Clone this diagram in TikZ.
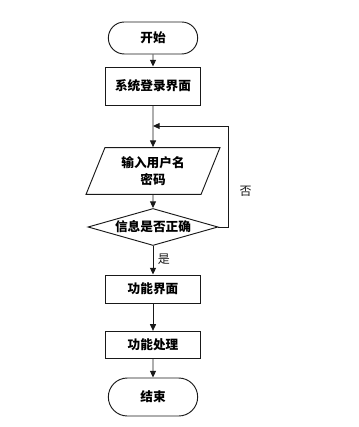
\documentclass[tikz,border=0pt]{standalone}
\usepackage{fontspec}
\newfontfamily\cjk{Noto Sans CJK SC}
\usetikzlibrary{arrows.meta, shapes.geometric, shapes.misc}

\begin{document}
\begin{tikzpicture}[
    x=0.75pt, y=-0.75pt,
    every node/.style={font=\cjk\bfseries\fontsize{9.5}{13}\selectfont},
    term/.style={draw=black!90, line width=0.7pt, rounded rectangle, minimum width=71pt, inner sep=2pt},
    proc/.style={draw=black!90, line width=0.7pt, rectangle, minimum width=71pt, inner sep=2pt},
    io/.style={draw=black!90, line width=0.7pt, trapezium, trapezium left angle=68, trapezium right angle=112, minimum width=101pt, minimum height=28.5pt, inner sep=1pt, align=center},
    dec/.style={draw=black!90, line width=0.7pt, diamond, aspect=3.5, minimum width=97.5pt, minimum height=27.75pt, inner sep=0pt},
    arr/.style={-{Triangle[width=4.5pt,length=5pt]}, line width=0.7pt, black!90},
    lbl/.style={font=\cjk\fontsize{9}{11}\selectfont},
]
\useasboundingbox (0,0) rectangle (358,427);

\node[term, minimum height=24pt] (start) at (153,38) {开始};
\node[proc, minimum height=28.5pt] (login) at (153,86) {系统登录界面};
\coordinate (jn) at (153,126);
\node[io] (input) at (153,171) {输入用户名\\密码};
\node[dec] (check) at (153,227) {信息是否正确};
\node[proc, minimum height=21pt] (func) at (153,289) {功能界面};
\node[proc, minimum height=20.5pt] (handle) at (153,345) {功能处理};
\node[term, minimum height=28.5pt] (stop) at (153,397) {结束};
\coordinate (rt) at (228,227);
\coordinate (rb) at (228,126);

\draw[arr] (start) -- (login);
\draw[arr] (login) -- (input);
\draw[arr] (input) -- (check);
\draw[arr] (check) -- node[lbl, right, pos=0.45] (yes) {是} (func);
\draw[arr] (func) -- (handle);
\draw[arr] (handle) -- (stop);
\draw[arr] (check.east) -- (rt) -- node[lbl, right=5pt, pos=0.35] (no) {否} (rb) -- (jn);

\end{tikzpicture}
\end{document}
